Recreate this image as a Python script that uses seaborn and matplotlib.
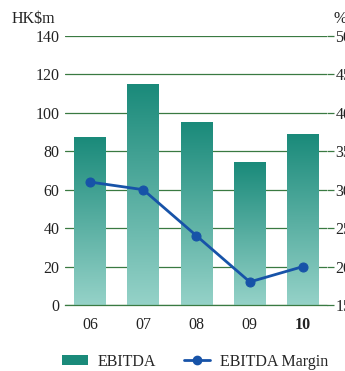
import matplotlib
matplotlib.use("Agg")
import matplotlib.pyplot as plt
import matplotlib.colors as mcolors
from matplotlib.lines import Line2D
from matplotlib.patches import Patch
import numpy as np
import pandas as pd
import seaborn as sns

years = ["06", "07", "08", "09", "10"]
ebitda = [87, 115, 95, 74, 89]
margin = [31, 30, 24, 18, 20]

left_ticks = [0, 20, 40, 60, 80, 100, 120, 140]
right_ticks = [15, 20, 25, 30, 35, 40, 45, 50]

bar_top = "#1a8a7a"
bar_bottom = "#95d2c8"
line_col = "#1753a8"
grid_col = "#3a7a42"
txt_col = "#222222"

sns.set_theme(style="white")
plt.rcParams["font.family"] = ["Liberation Serif", "DejaVu Serif"]

df = pd.DataFrame({"year": years, "ebitda": ebitda, "margin": margin})

fig = plt.figure(figsize=(3.45, 3.71), dpi=100)
ax = fig.add_axes([0.188, 0.178, 0.76, 0.725])

sns.barplot(data=df, x="year", y="ebitda", ax=ax, width=0.6, color=bar_top, zorder=2)

# gradient fill inside each bar
cmap = mcolors.LinearSegmentedColormap.from_list("g", [bar_bottom, bar_top])
grad = np.linspace(0, 1, 256).reshape(-1, 1)
for p in ax.patches:
    x0, w, h = p.get_x(), p.get_width(), p.get_height()
    ax.imshow(grad, cmap=cmap, origin="lower", aspect="auto",
              extent=[x0, x0 + w, 0, h], zorder=2)
    p.set_facecolor("none")
    p.set_edgecolor("none")

ax.set_xlim(-0.47, 4.45)
ax.set_ylim(0, 140)
ax.set_yticks(left_ticks)
ax.set_yticklabels([str(t) for t in left_ticks], fontsize=11.5)
ax.yaxis.grid(True, color=grid_col, linewidth=0.9, zorder=0)
ax.set_axisbelow(True)
ax.set_xlabel("")
ax.set_ylabel("")
for s in ["top", "left", "right"]:
    ax.spines[s].set_visible(False)
ax.spines["bottom"].set_color(grid_col)
ax.spines["bottom"].set_linewidth(0.9)
ax.tick_params(axis="y", length=0, pad=4, colors=txt_col)
ax.tick_params(axis="x", length=0, pad=9, colors=txt_col, labelsize=11.5)
for lab in ax.get_xticklabels():
    if lab.get_text() == "10":
        lab.set_fontweight("bold")

ax2 = ax.twinx()
sns.lineplot(data=df, x="year", y="margin", ax=ax2, color=line_col,
             marker="o", markersize=6.5, markeredgecolor=line_col,
             linewidth=2, zorder=5, sort=False)
ax2.set_ylim(15, 50)
ax2.set_yticks(right_ticks)
ax2.set_yticklabels([str(t) for t in right_ticks], fontsize=11.5)
ax2.tick_params(axis="y", length=5, width=0.9, pad=1, labelcolor=txt_col,
                color=grid_col)
ax2.set_ylabel("")
for s in ax2.spines.values():
    s.set_visible(False)

fig.text(0.035, 0.927, "HK$m", fontsize=11.5, color=txt_col, va="bottom")
fig.text(0.968, 0.927, "%", fontsize=11.5, color=txt_col, va="bottom")

handles = [Patch(facecolor=bar_top, edgecolor="none"),
           Line2D([0], [0], color=line_col, marker="o", markersize=6, linewidth=2)]
fig.legend(handles, ["EBITDA", "EBITDA Margin"], loc="center",
           bbox_to_anchor=(0.565, 0.025), ncol=2, frameon=False, fontsize=11.5,
           handlelength=1.6, handleheight=0.55, columnspacing=1.8, handletextpad=0.6)

fig.savefig("out.png", dpi=100)
